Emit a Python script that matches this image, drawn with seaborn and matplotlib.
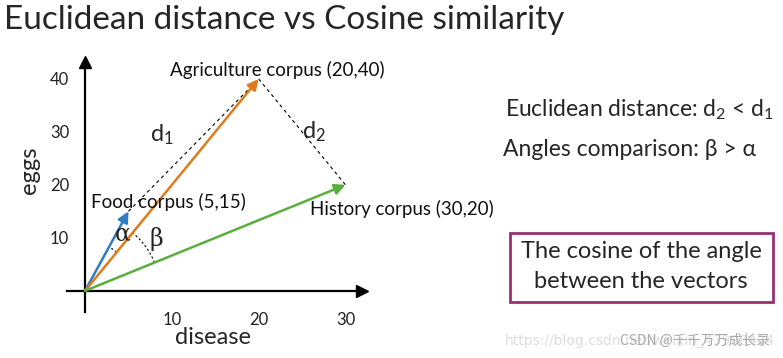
import numpy as np
import matplotlib
matplotlib.use("Agg")
import matplotlib.pyplot as plt
import seaborn as sns
from matplotlib.patches import Rectangle

# data
corpus_names = ["Food corpus", "Agriculture corpus", "History corpus"]
disease = [5, 20, 30]
eggs = [15, 40, 20]
vec_colors = ["#2f7dc0", "#e07b1c", "#5aae3d"]
x_ticks = [10, 20, 30]
y_ticks = [10, 20, 30, 40]

sns.set_style("white")
plt.rcParams['font.family'] = ['Lato', 'DejaVu Sans']
plt.rcParams['mathtext.fontset'] = 'custom'
plt.rcParams['mathtext.rm'] = 'Lato'
plt.rcParams['mathtext.it'] = 'Lato:italic'

W, H = 783, 358
fig = plt.figure(figsize=(W / 100, H / 100), dpi=100)

def fx(px):
    return px / W

def fy(py):
    return 1 - py / H

# axes box in pixels: 67..362 wide, 62..312 tall
ax = fig.add_axes([fx(67), fy(312), (362 - 67) / W, (312 - 62) / H])
xmin, xmax = -2.08, 31.9
ymin, ymax = -4.0, 43.2
ax.set_xlim(xmin, xmax)
ax.set_ylim(ymin, ymax)
sx = (362 - 67) / (xmax - xmin)
sy = (312 - 62) / (ymax - ymin)

for s in ["top", "right"]:
    ax.spines[s].set_visible(False)
ax.spines["left"].set_position(("data", 0))
ax.spines["bottom"].set_position(("data", 0))
for s in ["left", "bottom"]:
    ax.spines[s].set_linewidth(1.6)
    ax.spines[s].set_color("black")
ax.plot(1, 0, ">", color="black", ms=8, transform=ax.get_yaxis_transform(), clip_on=False)
ax.plot(0, 1, "^", color="black", ms=8, transform=ax.get_xaxis_transform(), clip_on=False)

ax.set_xticks(x_ticks)
ax.set_yticks(y_ticks)
ax.tick_params(axis="x", direction="inout", length=24, width=1, pad=3, labelsize=12)
ax.tick_params(axis="y", direction="inout", length=17, width=1, pad=3, labelsize=12)
for lab in ax.get_xticklabels() + ax.get_yticklabels():
    lab.set_color("#222222")

# vectors
for name, x, y, c in zip(corpus_names, disease, eggs, vec_colors):
    ax.annotate("", xy=(x, y), xytext=(0, 0),
                arrowprops=dict(arrowstyle="-|>", color=c, lw=1.8, mutation_scale=16,
                                shrinkA=0, shrinkB=0))

# dashed distance lines
ax.plot([disease[0], disease[1]], [eggs[0], eggs[1]], ls=(0, (3, 3)), color="black", lw=0.8)
ax.plot([disease[1], disease[2]], [eggs[1], eggs[2]], ls=(0, (3, 3)), color="black", lw=0.8)

# labels of vectors
offsets = [(40, 9), (19, 9), (56, -24)]
for name, x, y, off in zip(corpus_names, disease, eggs, offsets):
    ax.annotate(f"{name} ({x},{y})", xy=(x, y), xytext=off, textcoords="offset pixels",
                ha="center", va="center", fontsize=13.5, color="#111111")

# d1, d2
mid1 = ((disease[0] + disease[1]) / 2, (eggs[0] + eggs[1]) / 2)
mid2 = ((disease[1] + disease[2]) / 2, (eggs[1] + eggs[2]) / 2)
ax.annotate(r"$\mathrm{d}_1$", xy=mid1, xytext=(-32, 10), textcoords="offset pixels",
            ha="center", va="center", fontsize=17)
ax.annotate(r"$\mathrm{d}_2$", xy=mid2, xytext=(12, 0), textcoords="offset pixels",
            ha="center", va="center", fontsize=17)

# angle arcs (circular in display space)
ang = [np.arctan2(y * sy, x * sx) for x, y in zip(disease, eggs)]

def arc(a0, a1, r):
    t = np.linspace(a0, a1, 40)
    ax.plot(r * np.cos(t) / sx, r * np.sin(t) / sy, ls=(0, (2, 2)), color="black", lw=0.8)

arc(ang[1], ang[0], 50)
arc(ang[2], ang[1], 75)
for a0, a1, r, g in [(ang[1], ang[0], 68, "\u03b1"), (ang[2], ang[1], 88, "\u03b2")]:
    m = (a0 + a1) / 2
    ax.text(r * np.cos(m) / sx, r * np.sin(m) / sy, g, ha="center", va="center",
            fontsize=17, family=["DejaVu Serif"])

ax.set_xlabel("")
ax.set_ylabel("")
fig.text(fx(213), fy(337), "disease", ha="center", va="center", fontsize=17)
fig.text(fx(30), fy(170), "eggs", ha="center", va="center", fontsize=17, rotation=90)

# title and side notes
fig.text(fx(4), fy(20), "Euclidean distance vs Cosine similarity", ha="left", va="center", fontsize=24)
fig.text(fx(505), fy(110), r"Euclidean distance: $\mathrm{d}_2$ < $\mathrm{d}_1$",
         ha="left", va="center", fontsize=16.5)
fig.text(fx(503), fy(150), "Angles comparison: \u03b2 > \u03b1", ha="left", va="center",
         fontsize=16.5, family=["Lato", "DejaVu Serif"])

fig.patches.append(Rectangle((fx(510), fy(302)), (773 - 510) / W, (302 - 233) / H,
                             transform=fig.transFigure, fill=False, ec="#9a2f72", lw=2))
fig.text(fx(641), fy(252), "The cosine of the angle", ha="center", va="center", fontsize=17)
fig.text(fx(641), fy(281), "between the vectors", ha="center", va="center", fontsize=17)

# watermark
fig.text(fx(505), fy(341), "https://blog.csdn.net/weixin_43998424", ha="left", va="center",
         fontsize=10, color="#dddddd", family=["DejaVu Sans"])
fig.text(fx(620), fy(341), "CSDN @千千万万成长录", ha="left", va="center",
         fontsize=10, color="#aaaaaa", family=["Noto Sans CJK SC", "DejaVu Sans"])

fig.savefig("out.png", dpi=100)
